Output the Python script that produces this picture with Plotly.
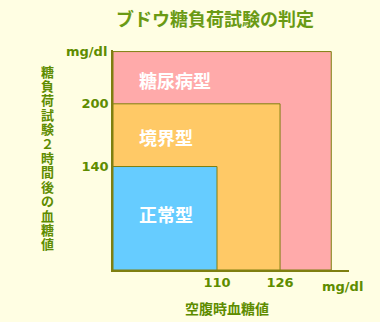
import plotly.graph_objects as go

# ---- data ----
categories = ["正常型", "境界型", "糖尿病型"]
x_upper = [110, 126, 139]        # 空腹時血糖値 upper bounds (mg/dl)
y_upper = [140, 200, 250]        # 2時間後血糖値 upper bounds (mg/dl)
fill_colors = ["#66CCFF", "#FFC966", "#FFAAAA"]
x_ticks = [110, 126]
y_ticks = [140, 200]
x_min, x_max = 83.6, 143.5
y_min, y_max = 41, 251.5
label_x = 89.6
label_y = [95, 168.6, 223]
unit = "mg/dl"
title = "ブドウ糖負荷試験の判定"
y_title = "糖負荷試験２時間後の血糖値"
x_title = "空腹時血糖値"

BG = "#FFFEE3"
GREEN = "#5E8C00"
OLIVE = "#7F7F10"
JP = "Noto Sans CJK JP"
NUM = "DejaVu Sans"

L, R, T, B = 113, 31, 50, 52
PW, PH = 380 - L - R, 322 - T - B


def px_x(px):
    return (px - L) / PW


def px_y(py):
    return (322 - B - py) / PH


fig = go.Figure()
fig.add_trace(go.Scatter(x=[x_min, x_max], y=[y_min, y_max], mode="markers",
                         marker=dict(opacity=0), hoverinfo="skip", showlegend=False))

shapes = []
for i in reversed(range(len(categories))):
    shapes.append(dict(type="rect", xref="x", yref="y",
                       x0=x_min, x1=x_upper[i], y0=y_min, y1=y_upper[i],
                       fillcolor=fill_colors[i], line=dict(color=OLIVE, width=1),
                       layer="below"))

annos = []
for i, c in enumerate(categories):
    annos.append(dict(x=label_x, y=label_y[i], xref="x", yref="y",
                      text=f"<b>{c}</b>", showarrow=False, xanchor="left", yanchor="middle",
                      font=dict(family=JP, size=18, color="white")))
# units
annos.append(dict(x=px_x(342), y=px_y(286), xref="paper", yref="paper",
                  text=f"<b>{unit}</b>", showarrow=False, xanchor="center", yanchor="middle",
                  font=dict(family=NUM, size=13, color=GREEN)))
annos.append(dict(x=px_x(109), y=y_upper[2], xref="paper", yref="y",
                  text=f"<b>{unit}</b>", showarrow=False, xanchor="right", yanchor="middle",
                  font=dict(family=NUM, size=13, color=GREEN)))
# title
annos.append(dict(x=px_x(215), y=px_y(18), xref="paper", yref="paper",
                  text=f"<b>{title}</b>", showarrow=False, xanchor="center", yanchor="middle",
                  font=dict(family=JP, size=18, color="#6A9A14")))
# vertical y title, one character per row (tight vertical pitch as in the reference)
pitch = 14.4
for k, ch in enumerate(y_title):
    annos.append(dict(x=px_x(47), y=px_y(71 + k * pitch), xref="paper", yref="paper",
                      text=f"<b>{ch}</b>", showarrow=False, xanchor="center", yanchor="middle",
                      font=dict(family=JP, size=13, color=GREEN)))
# x title
annos.append(dict(x=px_x(183), y=px_y(308), xref="paper", yref="paper",
                  text=f"<b>{x_title}</b>", showarrow=False, xanchor="left", yanchor="middle",
                  font=dict(family=JP, size=14, color=GREEN)))

fig.update_layout(
    width=380, height=322,
    margin=dict(l=L, r=R, t=T, b=B),
    paper_bgcolor=BG, plot_bgcolor=BG,
    shapes=shapes, annotations=annos,
    showlegend=False,
    xaxis=dict(range=[x_min, x_max], tickvals=x_ticks,
               ticktext=[f"<b>{v}</b>" for v in x_ticks],
               showgrid=False, zeroline=False, showline=True, linecolor=OLIVE, linewidth=1.5,
               ticks="", tickfont=dict(family=NUM, size=13, color=GREEN)),
    yaxis=dict(range=[y_min, y_max], tickvals=y_ticks,
               ticktext=[f"<b>{v}</b>" for v in y_ticks],
               showgrid=False, zeroline=False, showline=True, linecolor=OLIVE, linewidth=1.5,
               ticks="", tickfont=dict(family=NUM, size=13, color=GREEN)),
)

fig.write_html("out.html")
